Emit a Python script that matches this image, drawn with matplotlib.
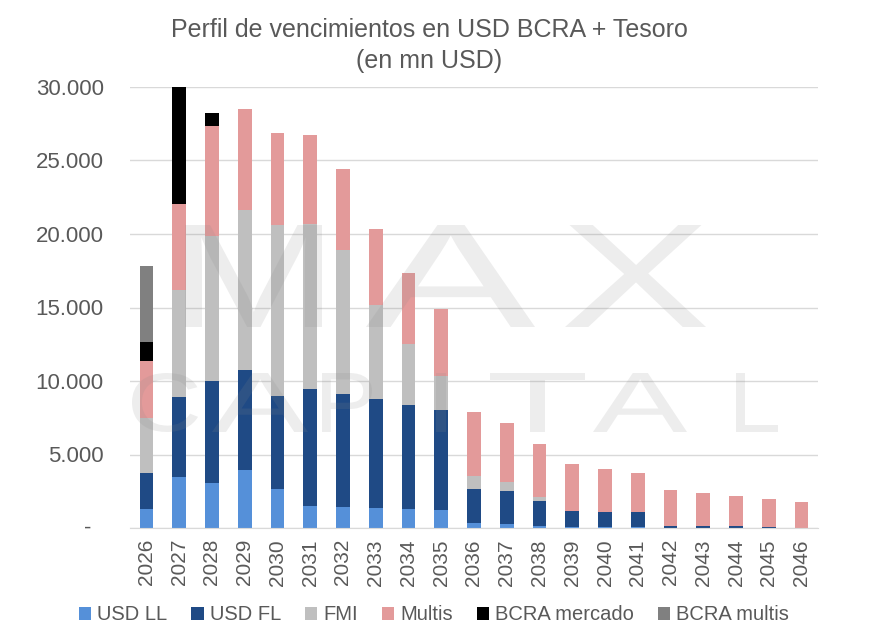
import matplotlib
matplotlib.use("Agg")
import matplotlib.pyplot as plt
import numpy as np
from matplotlib.ticker import FuncFormatter
from matplotlib.textpath import TextPath
from matplotlib.patches import PathPatch
from matplotlib.font_manager import FontProperties
from matplotlib.transforms import Affine2D, IdentityTransform

years = [str(y) for y in range(2026, 2047)]
usd_ll = [1320, 3480, 3090, 3930, 2640, 1500, 1430, 1360, 1300, 1230, 320, 270, 160, 50, 50, 40, 0, 0, 0, 0, 0]
usd_fl = [2450, 5410, 6930, 6820, 6340, 7950, 7680, 7390, 7040, 6770, 2340, 2280, 1660, 1130, 1060, 1030, 140, 120, 120, 100, 0]
fmi = [3680, 7270, 9820, 10860, 11610, 11250, 9820, 6430, 4160, 2320, 910, 560, 270, 0, 0, 0, 0, 0, 0, 0, 0]
multis = [3910, 5910, 7500, 6910, 6300, 6050, 5500, 5160, 4820, 4610, 4320, 4050, 3640, 3180, 2910, 2680, 2470, 2270, 2040, 1880, 1750]
bcra_mercado = [1320, 7930, 890, 0, 0, 0, 0, 0, 0, 0, 0, 0, 0, 0, 0, 0, 0, 0, 0, 0, 0]
bcra_multis = [5160, 0, 0, 0, 0, 0, 0, 0, 0, 0, 0, 0, 0, 0, 0, 0, 0, 0, 0, 0, 0]

series = [
    ("USD LL", usd_ll, "#5590D9"),
    ("USD FL", usd_fl, "#1F4A85"),
    ("FMI", fmi, "#BFBFBF"),
    ("Multis", multis, "#E39A9A"),
    ("BCRA mercado", bcra_mercado, "#000000"),
    ("BCRA multis", bcra_multis, "#808080"),
]

plt.rcParams['font.family'] = ['Liberation Sans', 'DejaVu Sans']
W, H = 894, 642
fig = plt.figure(figsize=(W/100, H/100), dpi=100)
ax = fig.add_axes([130/W, 1-528/H, (818-130)/W, (528-87)/H])

x = np.arange(len(years))
bottom = np.zeros(len(years))
handles = []
for name, vals, col in series:
    v = np.array(vals, dtype=float)
    b = ax.bar(x, v, bottom=bottom, width=0.42, color=col, label=name, zorder=2)
    handles.append(b)
    bottom += v

ax.set_xlim(-0.5, len(years) - 0.5)
ax.set_ylim(0, 30000)
ax.set_yticks(np.arange(0, 30001, 5000))
ax.yaxis.set_major_formatter(FuncFormatter(lambda v, p: "" if v == 0 else f"{int(v):,}".replace(",", ".")))
ax.set_xticks(x)
ax.set_xticklabels(years, rotation=90)
ax.grid(axis='y', color='#D9D9D9', linewidth=1.0, zorder=0)
ax.set_axisbelow(True)
for s in ['top', 'right', 'left']:
    ax.spines[s].set_visible(False)
ax.spines['bottom'].set_color('#D9D9D9')
ax.tick_params(axis='both', length=0, colors='#595959')
ax.tick_params(axis='y', pad=19, labelsize=16)
ax.tick_params(axis='x', pad=8, labelsize=15)
# zero label in accounting style ("-" set left of the number column's right edge)
fig.text(88/W, 1-528/H, "-", ha='center', va='center', fontsize=16, color='#595959')

fig.text(429/W, 1-30/H, "Perfil de vencimientos en USD BCRA + Tesoro", ha='center', va='center',
         fontsize=18, color='#595959')
fig.text(429/W, 1-61/H, "(en mn USD)", ha='center', va='center', fontsize=18, color='#595959')

# watermark (letters fitted into boxes: x0, x1, ytop, ybottom in pixels)
fp = FontProperties(family='Liberation Sans', weight='normal')
boxes = [
    ("M", 185, 322, 225, 327), ("A", 366, 535, 225, 327), ("X", 565, 706, 225, 327),
    ("C", 132, 198, 373, 432), ("A", 212, 308, 373, 432), ("P", 322, 372, 373, 432),
    ("I", 436, 446, 373, 432), ("T", 490, 585, 373, 432), ("A", 593, 687, 373, 432),
    ("L", 736, 778, 373, 432),
]
for ch, x0, x1, yt, yb in boxes:
    tp = TextPath((0, 0), ch, size=100, prop=fp)
    ext = tp.get_extents()
    sx = (x1 - x0) / ext.width
    sy = (yb - yt) / ext.height
    tr = Affine2D().translate(-ext.x0, -ext.y0).scale(sx, sy).translate(x0, H - yb)
    patch = PathPatch(tr.transform_path(tp), facecolor='#888888', edgecolor='none', alpha=0.15,
                      transform=IdentityTransform(), zorder=10)
    fig.add_artist(patch)

fig.legend(handles=handles, labels=[s[0] for s in series], loc='center', ncol=6,
           bbox_to_anchor=(434/W, 1-615/H), frameon=False, fontsize=14.5,
           handlelength=0.6, handleheight=0.6, handletextpad=0.3, columnspacing=1.2,
           labelcolor='#595959')

fig.savefig("out.png", dpi=100)
